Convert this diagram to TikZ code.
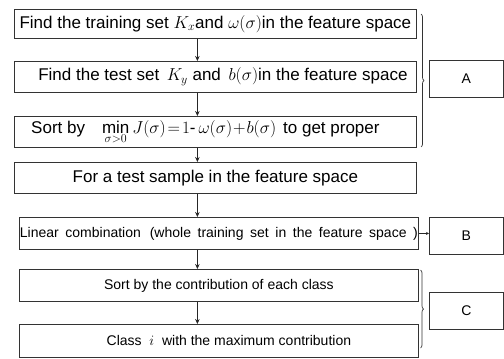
\documentclass[tikz,border=0pt]{standalone}
\usepackage{fontspec}
\setmainfont{Liberation Sans}
\usetikzlibrary{arrows.meta,decorations.pathreplacing}
\begin{document}
\begin{tikzpicture}[x=1pt,y=-1pt,
  box/.style={draw=black!80,line width=0.8pt,inner sep=0pt,anchor=north west,
    font=\fontsize{17}{19}\selectfont},
  sbox/.style={box,font=\fontsize{14}{16}\selectfont},
  arr/.style={draw=black!85,line width=0.8pt,-{Stealth[length=5pt,width=4.5pt]}},
  brc/.style={draw=black!80,line width=0.7pt,decorate,decoration={brace,amplitude=3pt}}]
\useasboundingbox (0,0) rectangle (504,359);
\fill[white] (0,0) rectangle (504,359);
\node[box,minimum width=402pt,minimum height=29pt] (b1) at (14,9)
  {Find the training set $K_x$and $\omega(\sigma)$in the feature space};
\node[box,minimum width=402pt,minimum height=31pt] (b2) at (14,61)
  {\hspace{15pt}Find the test set\, $K_y$ and\, $b(\sigma)$in the feature space};
\node[box,minimum width=402pt,minimum height=31pt] (b3) at (14,116)
  {Sort by\hspace{17pt}$\min\limits_{\sigma>0}J(\sigma)\!=\!1\mbox{-}\,\omega(\sigma)\!+\!b(\sigma)$\hspace{7pt}to get proper\kern20pt};
\node[box,minimum width=402pt,minimum height=31pt] (b4) at (14,162)
  {For a test sample in the feature space};
\node[sbox,minimum width=399pt,minimum height=32pt] (b5) at (19,217)
  {\spaceskip=6.6pt Linear combination\ \,(whole training set in the feature space\ )};
\node[sbox,minimum width=399pt,minimum height=32pt] (b6) at (19,269)
  {Sort by the contribution\ of each class};
\node[sbox,minimum width=399pt,minimum height=33pt] (b7) at (19,324)
  {\hspace{20pt}Class\ \ $i$\ \ with the maximum contribution};
\node[sbox,minimum width=74pt,minimum height=37pt] (A) at (429,60) {A};
\node[sbox,minimum width=74pt,minimum height=37pt] (B) at (429,217) {B};
\node[sbox,minimum width=74pt,minimum height=37pt] (C) at (429,292) {C};
\draw[arr] ([xshift=-18pt]b1.south) -- ([xshift=-18pt]b2.north);
\draw[arr] ([xshift=-18pt]b2.south) -- ([xshift=-18pt]b3.north);
\draw[arr] ([xshift=-18pt]b3.south) -- ([xshift=-18pt]b4.north);
\draw[arr] ([xshift=-18pt]b4.south) -- ([xshift=-18pt]b4.south |- b5.north);
\draw[arr] ([xshift=-21.5pt]b5.south) -- ([xshift=-21.5pt]b6.north);
\draw[arr] ([xshift=-21.5pt]b6.south) -- ([xshift=-21.5pt]b7.north);
\draw[arr,-{Stealth[length=3pt,width=3pt]}] (b5.east) -- (b5.east -| B.west);
\coordinate (ta) at (421,14);
\coordinate (ba) at (421,147);
\draw[brc] (ta) -- (ba);
\coordinate (tc) at (420.5,270);
\coordinate (bc) at (420.5,348);
\draw[brc] (tc) -- (bc);
\end{tikzpicture}
\end{document}
